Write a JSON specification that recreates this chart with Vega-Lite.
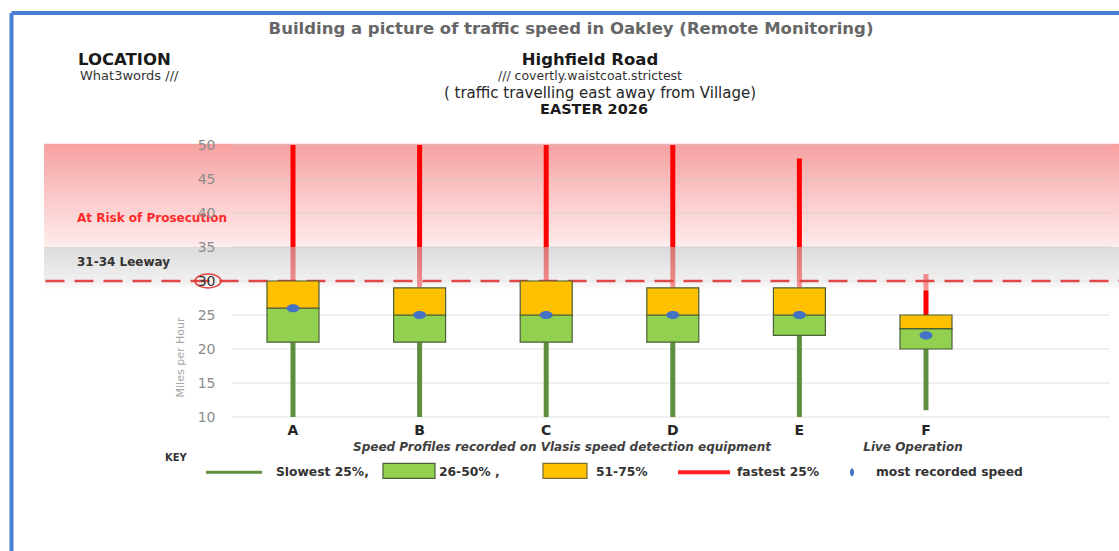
{
  "$schema": "https://vega.github.io/schema/vega-lite/v6.json",
  "width": 878,
  "height": 272,
  "autosize": {"type": "none"},
  "padding": {"left": 232, "top": 145, "right": 9, "bottom": 134},
  "background": "white",
  "config": {"view": {"stroke": null}, "text": {"font": "DejaVu Sans"}, "axis": {"labelOverlap": false, "labelSeparation": 0, "labelBound": false, "labelFlush": false}},
  "datasets": {
    "speeds": [
      {"site": "A", "pos": 1, "low": 10, "q1": 21, "median": 26, "q3": 30, "high": 50, "mode": 26},
      {"site": "B", "pos": 2, "low": 10, "q1": 21, "median": 25, "q3": 29, "high": 50, "mode": 25},
      {"site": "C", "pos": 3, "low": 10, "q1": 21, "median": 25, "q3": 30, "high": 50, "mode": 25},
      {"site": "D", "pos": 4, "low": 10, "q1": 21, "median": 25, "q3": 29, "high": 50, "mode": 25},
      {"site": "E", "pos": 5, "low": 10, "q1": 22, "median": 25, "q3": 29, "high": 48, "mode": 25},
      {"site": "F", "pos": 6, "low": 11, "q1": 20, "median": 23, "q3": 25, "high": 31, "mode": 22}
    ],
    "grid": [{"mph": 10}, {"mph": 15}, {"mph": 20}, {"mph": 25}, {"mph": 30}, {"mph": 35}, {"mph": 40}, {"mph": 45}, {"mph": 50}]
  },
  "data": {"values": [{}]},
  "layer": [
    {
      "mark": {"type": "rect", "fill": {"gradient": "linear", "x1": 0, "y1": 0, "x2": 0, "y2": 1, "stops": [{"offset": 0, "color": "#f7a0a0"}, {"offset": 0.5, "color": "#fbc8c8"}, {"offset": 1, "color": "#feecec"}]}},
      "encoding": {
        "x": {"datum": -0.9668, "type": "quantitative", "scale": {"domain": [0.5182, 7.4534], "nice": false, "zero": false, "padding": 0}, "axis": null},
        "x2": {"datum": 7.53},
        "y": {"datum": 50.2, "type": "quantitative", "scale": {"domain": [10, 50], "nice": false, "zero": false, "padding": 0},
          "axis": {"orient": "left", "values": [10, 15, 20, 25, 30, 35, 40, 45, 50], "tickCount": 9, "grid": false, "ticks": false, "domain": false, "labelOverlap": false, "labelPadding": 17, "labelFont": "DejaVu Sans", "labelFontSize": 14,
            "labelColor": {"condition": {"test": "datum.value == 30", "value": "#333333"}, "value": "#8c8c8c"},
            "title": "Miles per Hour", "titleX": -52, "titleY": 212, "titleAngle": -90, "titleAlign": "center", "titleBaseline": "middle", "titleFont": "DejaVu Sans", "titleFontSize": 11, "titleFontWeight": "normal", "titleColor": "#a6a6a6", "zindex": 1}},
        "y2": {"datum": 35}
      }
    },
    {
      "data": {"name": "grid"},
      "mark": {"type": "rule", "color": "#d0d0d0", "strokeWidth": 1, "opacity": 0.6},
      "encoding": {"x": {"datum": 0.5182}, "x2": {"datum": 7.4534}, "y": {"field": "mph", "type": "quantitative"}}
    },
    {
      "data": {"name": "speeds"},
      "mark": {"type": "rule", "color": "#ff0000", "strokeWidth": 5},
      "encoding": {"x": {"field": "pos", "type": "quantitative"}, "y": {"field": "q3", "type": "quantitative"}, "y2": {"field": "high"}}
    },
    {
      "data": {"name": "speeds"},
      "mark": {"type": "rule", "color": "#5e8f3e", "strokeWidth": 5},
      "encoding": {"x": {"field": "pos", "type": "quantitative"}, "y": {"field": "low", "type": "quantitative"}, "y2": {"field": "q1"}}
    },
    {
      "mark": {"type": "rect", "opacity": 0.6, "fill": {"gradient": "linear", "x1": 0, "y1": 0, "x2": 0, "y2": 1, "stops": [{"offset": 0, "color": "#c4c4c4"}, {"offset": 0.78, "color": "#e6e6e6"}, {"offset": 1, "color": "#ffffff"}]}},
      "encoding": {"x": {"datum": -0.9668}, "x2": {"datum": 7.53}, "y": {"datum": 35}, "y2": {"datum": 28.6}}
    },
    {
      "mark": {"type": "rule", "color": "#e04848", "strokeWidth": 2.5, "strokeDash": [19, 10]},
      "encoding": {"x": {"datum": -0.955}, "x2": {"datum": 7.53}, "y": {"datum": 30}}
    },
    {
      "mark": {"type": "point", "shape": "M -1 0 A 1 0.54 0 1 0 1 0 A 1 0.54 0 1 0 -1 0 Z", "size": 676, "filled": false, "stroke": "#e63030", "strokeWidth": 1.5, "opacity": 0.9},
      "encoding": {"x": {"datum": 0.3286}, "y": {"datum": 30}}
    },
    {
      "data": {"name": "speeds"},
      "mark": {"type": "bar", "size": 52, "fill": "#92d050", "stroke": "#4a5e38", "strokeWidth": 1.2},
      "encoding": {"x": {"field": "pos", "type": "quantitative"}, "y": {"field": "q1", "type": "quantitative"}, "y2": {"field": "median"}}
    },
    {
      "data": {"name": "speeds"},
      "mark": {"type": "bar", "size": 52, "fill": "#ffc000", "stroke": "#4a5e38", "strokeWidth": 1.2},
      "encoding": {"x": {"field": "pos", "type": "quantitative"}, "y": {"field": "median", "type": "quantitative"}, "y2": {"field": "q3"}}
    },
    {
      "data": {"name": "speeds"},
      "mark": {"type": "point", "shape": "M -1 0 A 1 0.62 0 1 0 1 0 A 1 0.62 0 1 0 -1 0 Z", "size": 169, "filled": true, "color": "#4472c4", "opacity": 1},
      "encoding": {"x": {"field": "pos", "type": "quantitative"}, "y": {"field": "mode", "type": "quantitative"}}
    },
    {
      "data": {"name": "speeds"},
      "mark": {"type": "text", "fontSize": 14, "fontWeight": "bold", "color": "#262626", "align": "center", "baseline": "middle"},
      "encoding": {"x": {"field": "pos", "type": "quantitative"}, "y": {"datum": 7.98}, "text": {"field": "site"}}
    },
    {
      "mark": {"type": "rule", "color": "#4a7fd4", "strokeWidth": 4},
      "encoding": {"x": {"datum": -1.2235}, "y": {"datum": 69.41}, "y2": {"datum": -12}}
    },
    {
      "mark": {"type": "rule", "color": "#4a7fd4", "strokeWidth": 4},
      "encoding": {"x": {"datum": -1.2235}, "x2": {"datum": 7.53}, "y": {"datum": 69.41}}
    },
    {
      "mark": {"type": "text", "text": "Building a picture of traffic speed in Oakley (Remote Monitoring)", "fontSize": 16.5, "fontWeight": "bold", "color": "#666666", "align": "center", "baseline": "middle"},
      "encoding": {"x": {"datum": 3.196}, "y": {"datum": 67.06}}
    },
    {
      "mark": {"type": "text", "text": "LOCATION", "fontSize": 16.5, "fontWeight": "bold", "color": "#1a1a1a", "align": "left", "baseline": "middle"},
      "encoding": {"x": {"datum": -0.6983}, "y": {"datum": 62.45}}
    },
    {
      "mark": {"type": "text", "text": "What3words ///", "fontSize": 13, "color": "#333333", "align": "left", "baseline": "middle"},
      "encoding": {"x": {"datum": -0.6825}, "y": {"datum": 60.1}}
    },
    {
      "mark": {"type": "text", "text": "Highfield Road", "fontSize": 16.5, "fontWeight": "bold", "color": "#1a1a1a", "align": "center", "baseline": "middle"},
      "encoding": {"x": {"datum": 3.3459}, "y": {"datum": 62.45}}
    },
    {
      "mark": {"type": "text", "text": "/// covertly.waistcoat.strictest", "fontSize": 12.5, "color": "#333333", "align": "center", "baseline": "middle"},
      "encoding": {"x": {"datum": 3.3459}, "y": {"datum": 60.1}}
    },
    {
      "mark": {"type": "text", "text": "( traffic travelling east away from Village)", "fontSize": 15, "color": "#262626", "align": "center", "baseline": "middle"},
      "encoding": {"x": {"datum": 3.4249}, "y": {"datum": 57.72}}
    },
    {
      "mark": {"type": "text", "text": "EASTER 2026", "fontSize": 14.5, "fontWeight": "bold", "color": "#1a1a1a", "align": "center", "baseline": "middle"},
      "encoding": {"x": {"datum": 3.3776}, "y": {"datum": 55.2}}
    },
    {
      "mark": {"type": "text", "text": "At Risk of Prosecution", "fontSize": 12, "fontWeight": "bold", "color": "#ff2a2a", "align": "left", "baseline": "middle"},
      "encoding": {"x": {"datum": -0.7062}, "y": {"datum": 39.26}}
    },
    {
      "mark": {"type": "text", "text": "31-34 Leeway", "fontSize": 12, "fontWeight": "bold", "color": "#333333", "align": "left", "baseline": "middle"},
      "encoding": {"x": {"datum": -0.7062}, "y": {"datum": 32.79}}
    },
    {
      "mark": {"type": "text", "text": "Speed Profiles recorded on Vlasis speed detection equipment", "fontSize": 12, "fontStyle": "italic", "fontWeight": "bold", "color": "#404040", "align": "center", "baseline": "middle"},
      "encoding": {"x": {"datum": 3.1248}, "y": {"datum": 5.63}}
    },
    {
      "mark": {"type": "text", "text": "Live Operation", "fontSize": 12, "fontStyle": "italic", "fontWeight": "bold", "color": "#404040", "align": "center", "baseline": "middle"},
      "encoding": {"x": {"datum": 5.8973}, "y": {"datum": 5.63}}
    },
    {
      "mark": {"type": "text", "text": "KEY", "fontSize": 10, "fontWeight": "bold", "color": "#333333", "align": "left", "baseline": "middle"},
      "encoding": {"x": {"datum": -0.0111}, "y": {"datum": 3.92}}
    },
    {
      "mark": {"type": "rule", "color": "#5e8f3e", "strokeWidth": 3},
      "encoding": {"x": {"datum": 0.3128}, "x2": {"datum": 0.7551}, "y": {"datum": 1.86}}
    },
    {
      "mark": {"type": "text", "text": "Slowest 25%,", "fontSize": 12.3, "fontWeight": "bold", "color": "#333333", "align": "left", "baseline": "middle"},
      "encoding": {"x": {"datum": 0.8657}, "y": {"datum": 1.86}}
    },
    {
      "mark": {"type": "rect", "fill": "#92d050", "stroke": "#4a5e38", "strokeWidth": 1.2},
      "encoding": {"x": {"datum": 1.7109}, "x2": {"datum": 2.1216}, "y": {"datum": 3.19}, "y2": {"datum": 0.98}}
    },
    {
      "mark": {"type": "text", "text": "26-50% ,", "fontSize": 12.3, "fontWeight": "bold", "color": "#333333", "align": "left", "baseline": "middle"},
      "encoding": {"x": {"datum": 2.1532}, "y": {"datum": 1.86}}
    },
    {
      "mark": {"type": "rect", "fill": "#ffc000", "stroke": "#7a6a30", "strokeWidth": 1.2},
      "encoding": {"x": {"datum": 2.9747}, "x2": {"datum": 3.3223}, "y": {"datum": 3.19}, "y2": {"datum": 0.98}}
    },
    {
      "mark": {"type": "text", "text": "51-75%", "fontSize": 12.3, "fontWeight": "bold", "color": "#333333", "align": "left", "baseline": "middle"},
      "encoding": {"x": {"datum": 3.3933}, "y": {"datum": 1.86}}
    },
    {
      "mark": {"type": "rule", "color": "#ff2020", "strokeWidth": 4},
      "encoding": {"x": {"datum": 4.0411}, "x2": {"datum": 4.4518}, "y": {"datum": 1.86}}
    },
    {
      "mark": {"type": "text", "text": "fastest 25%", "fontSize": 12.3, "fontWeight": "bold", "color": "#333333", "align": "left", "baseline": "middle"},
      "encoding": {"x": {"datum": 4.5071}, "y": {"datum": 1.86}}
    },
    {
      "mark": {"type": "point", "shape": "M 0 -1 A 0.5 1 0 1 0 0 1 A 0.5 1 0 1 0 0 -1 Z", "size": 64, "filled": true, "color": "#4472c4", "opacity": 1},
      "encoding": {"x": {"datum": 5.4155}, "y": {"datum": 1.86}}
    },
    {
      "mark": {"type": "text", "text": "most recorded speed", "fontSize": 12.3, "fontWeight": "bold", "color": "#333333", "align": "left", "baseline": "middle"},
      "encoding": {"x": {"datum": 5.605}, "y": {"datum": 1.86}}
    }
  ]
}
